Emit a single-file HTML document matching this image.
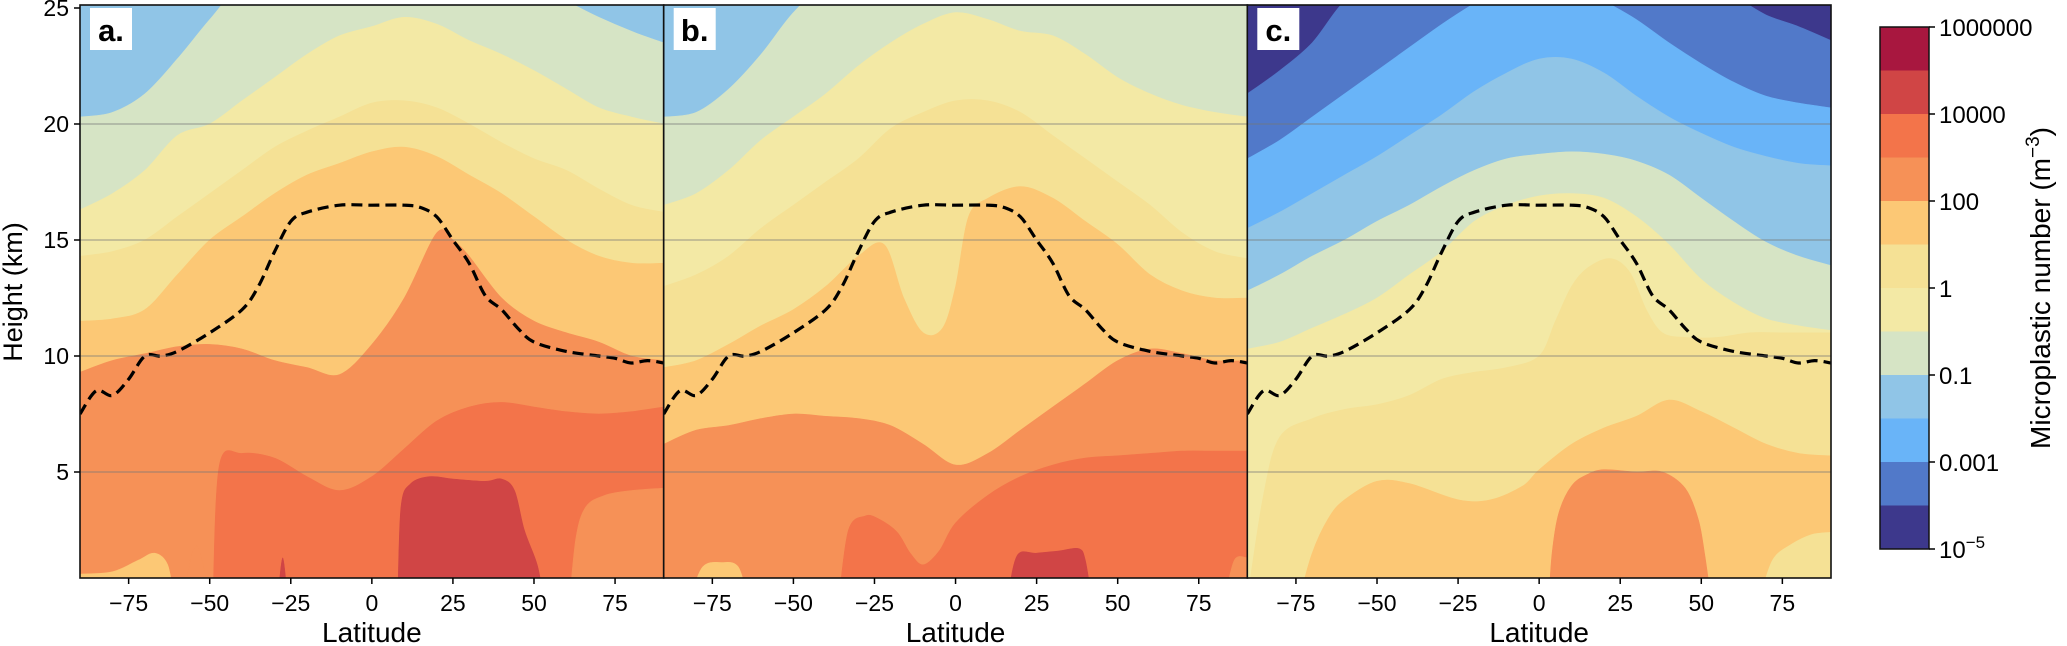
<!DOCTYPE html>
<html><head><meta charset="utf-8"><style>
body{margin:0;background:#fff;}
svg{display:block;font-family:"Liberation Sans","DejaVu Sans",sans-serif;}
</style></head><body>
<svg id="fig" width="2067" height="646" viewBox="0 0 2067 646" xmlns="http://www.w3.org/2000/svg"></svg>
<script>
const colors=["#3d388c","#5179c9","#69b4f8","#90c5e7","#d6e4c5","#f3e9a5","#f5e195","#fcc875","#f69157","#f3744a","#d04545","#a8173f"];
const cbLabels=["1000000","10000","100","1","0.1","0.001","10^-5"];
const latTicks=[-75,-50,-25,0,25,50,75];
const hTicks=[5,10,15,20,25];
const L=[-90,-80,-70,-60,-50,-40,-30,-20,-10,0,10,20,30,40,50,60,70,80,90];
const tropLat=[-90,-85,-80,-75,-70,-65,-60,-50,-40,-35,-30,-25,-20,-10,0,10,15,20,25,30,35,40,45,50,60,70,75,80,85,90];
const tropH=[7.5,8.5,8.3,9.0,10.0,10.0,10.2,11.0,12.0,13.0,14.5,15.8,16.2,16.5,16.5,16.5,16.4,16.0,15.0,14.0,12.6,12.0,11.2,10.6,10.2,10.0,9.9,9.7,9.8,9.7];
const panelA=[
 {lvl:3,lats:L,hs:[30,30,30,30,30,30,30,30,30,30,30,30,30,30,30,30,30,30,30]},
 {lvl:4,lats:L,hs:[20.3,20.5,21.3,22.8,24.5,26,26,26,26,26,26,26,26,26,26,25.3,24.6,24.0,23.5]},
 {lvl:5,lats:L,hs:[16.3,17,18,19.5,20,21,22,23,23.8,24.2,24.6,24.3,23.6,23,22.3,21.5,20.7,20.3,20.0]},
 {lvl:6,lats:L,hs:[14.3,14.5,15,16,17,18,19,19.7,20.3,20.9,21,20.7,20,19.2,18.5,18,17.2,16.5,16.2]},
 {lvl:7,lats:L,hs:[11.5,11.6,12,13.5,15,16,17,17.8,18.3,18.8,19,18.6,17.8,17,16,15,14.3,14,14]},
 {lvl:8,lats:[-90,-80,-70,-60,-50,-40,-30,-20,-10,0,10,20,25,30,40,50,60,70,80,90],hs:[9.3,9.8,10.1,10.4,10.5,10.3,9.8,9.5,9.2,10.5,12.5,15.3,15.0,14.3,12.5,11.5,11,10.6,10,9.8]},
 {lvl:9,lats:[-49,-47,-40,-30,-20,-10,0,10,20,30,40,50,60,70,80,90],hs:[0,5.3,5.8,5.6,4.8,4.2,4.8,6.0,7.2,7.8,8.0,7.8,7.6,7.5,7.6,7.8]},
 {lvl:8,lats:[-90,-80,-72,-68,-65,-62,-60],hs:[0.6,0.6,0.8,0.9,0.9,0.6,0]},
 {lvl:7,lats:[-90,-80,-72,-67,-63,-61],hs:[0.6,0.7,1.2,1.5,1.0,0]},
 {lvl:8,lats:[-58,-56,-54,-52,-50],hs:[0,1.2,1.8,1.0,0]},
 {lvl:10,lats:[-29,-27.5,-26],hs:[0,1.3,0]},
 {lvl:8,lats:[61,63,66,72,80,90],hs:[0,2.2,3.5,4.0,4.2,4.3]},
 {lvl:10,lats:[8,9,12,18,25,35,40,44,47,51,53],hs:[0,3.5,4.5,4.8,4.7,4.6,4.7,4.2,2.5,1.0,0]}
];
const panelB=[
 {lvl:3,lats:L,hs:[30,30,30,30,30,30,30,30,30,30,30,30,30,30,30,30,30,30,30]},
 {lvl:4,lats:L,hs:[20.3,20.5,21.5,23,24.8,26,26,26,26,26,26,26,26,26,26,26,26,26,26]},
 {lvl:5,lats:L,hs:[16.5,17,18,19.3,20.3,21.3,22.5,23.5,24.3,24.8,24.5,24,23.8,23,22,21.3,20.8,20.5,20.3]},
 {lvl:6,lats:L,hs:[13,13.5,14.3,15.5,16.5,17.5,18.5,19.8,20.5,21,21,20.5,19.5,18.5,17.5,16.5,15.3,14.5,14.2]},
 {lvl:7,lats:[-90,-80,-70,-60,-50,-40,-30,-22,-16,-10,-4,0,4,10,20,30,40,50,60,70,80,90],hs:[9.5,9.8,10.5,11.3,12,13,14.3,14.8,12.5,11,11.2,13,16,16.8,17.3,16.8,15.8,14.8,13.5,12.8,12.5,12.5]},
 {lvl:8,lats:L,hs:[6.2,6.8,7.0,7.3,7.5,7.4,7.3,7.0,6.2,5.3,5.8,6.8,7.8,8.8,9.8,10.3,10.1,9.8,9.8]},
 {lvl:9,lats:[-36,-33,-28,-24,-18,-14,-10,-5,0,10,20,30,40,50,60,70,80,90],hs:[0,2.5,3.1,3.0,2.4,1.5,1.0,1.6,2.8,4.0,4.8,5.3,5.6,5.7,5.8,5.9,5.9,5.9]},
 {lvl:7,lats:[-82,-78,-72,-67,-64],hs:[0,0.9,1.1,0.9,0]},
 {lvl:10,lats:[16,19,25,32,38,40,42],hs:[0,1.4,1.5,1.6,1.7,1.2,0]},
 {lvl:8,lats:[83,86,90],hs:[0,1.2,1.3]}
];
const panelC=[
 {lvl:0,lats:L,hs:[30,30,30,30,30,30,30,30,30,30,30,30,30,30,30,30,30,30,30]},
 {lvl:1,lats:L,hs:[21.3,22.3,23.5,25.3,26,26,26,26,26,26,26,26,26,26,26,25.5,24.7,24.2,23.6]},
 {lvl:2,lats:L,hs:[18.5,19.3,20.3,21.3,22.3,23.3,24.3,25.2,26,26,26,25.3,24.5,23.5,22.6,21.8,21.2,20.9,20.7]},
 {lvl:3,lats:L,hs:[15.5,16.2,17,17.8,18.6,19.5,20.4,21.4,22.2,22.8,22.8,22.2,21.2,20.3,19.6,19.0,18.6,18.3,18.2]},
 {lvl:4,lats:L,hs:[12.8,13.5,14.3,15.0,15.8,16.5,17.3,18.0,18.5,18.7,18.8,18.7,18.4,17.8,16.8,15.8,14.9,14.3,13.9]},
 {lvl:5,lats:L,hs:[10.3,10.6,11.2,11.8,12.5,13.5,14.5,15.8,16.5,16.9,17.0,16.8,16.0,14.8,13.3,12.3,11.6,11.3,11.1]},
 {lvl:6,lats:[-90,-85,-80,-70,-60,-50,-40,-30,-20,-10,0,5,10,15,22,28,33,38,45,55,65,75,90],hs:[0,4,6.5,7.3,7.7,7.9,8.3,9.0,9.3,9.5,10,11.5,13,13.8,14.2,13.6,12,11,10.8,10.8,11,11,11]},
 {lvl:7,lats:[-74,-70,-65,-60,-50,-40,-25,-15,-5,0,10,20,30,40,50,60,70,80,90],hs:[0,1.5,3.0,3.8,4.6,4.5,3.8,3.8,4.4,5.1,6.2,6.9,7.4,8.1,7.6,6.9,6.2,5.8,5.7]},
 {lvl:6,lats:[68,72,78,84,90],hs:[0,1.2,1.9,2.3,2.4]},
 {lvl:8,lats:[3,4,6,10,15,20,30,38,45,49,51,53],hs:[0,1.5,3.2,4.4,4.9,5.1,5.0,5.0,4.3,3.0,1.5,0]}
];
const panels=[{name:"a",x0:80,data:panelA},{name:"b",x0:663.7,data:panelB},{name:"c",x0:1247.3,data:panelC}];
const PW=583.7, TOP=5, BOT=578;
const NS="http://www.w3.org/2000/svg";
const svg=document.getElementById("fig");
function yOf(h){return 8+(25-h)*23.2;}
function mk(tag,attrs,parent){const e=document.createElementNS(NS,tag);for(const k in attrs)e.setAttribute(k,attrs[k]);(parent||svg).appendChild(e);return e;}
function smoothPath(pts){
  let d="M"+pts[0][0].toFixed(1)+","+pts[0][1].toFixed(1);
  for(let i=0;i<pts.length-1;i++){
    const p0=pts[Math.max(0,i-1)],p1=pts[i],p2=pts[i+1],p3=pts[Math.min(pts.length-1,i+2)];
    const c1=[p1[0]+(p2[0]-p0[0])/6,p1[1]+(p2[1]-p0[1])/6];
    const c2=[p2[0]-(p3[0]-p1[0])/6,p2[1]-(p3[1]-p1[1])/6];
    d+=" C"+c1[0].toFixed(1)+","+c1[1].toFixed(1)+" "+c2[0].toFixed(1)+","+c2[1].toFixed(1)+" "+p2[0].toFixed(1)+","+p2[1].toFixed(1);
  }
  return d;
}
const defs=mk("defs",{});
panels.forEach((p,pi)=>{
  const xOf=lat=>p.x0+(lat+90)/180*PW;
  const cp=mk("clipPath",{id:"clip"+pi},defs);
  mk("rect",{x:p.x0,y:TOP,width:PW,height:BOT-TOP},cp);
  const g=mk("g",{"clip-path":"url(#clip"+pi+")"});
  
  
  p.data.forEach((ly,li)=>{
    const pts=ly.lats.map((la,i)=>[xOf(la),yOf(Math.max(-1,Math.min(30,ly.hs[i]<=0?-0.5:ly.hs[i])))]);
    let d=smoothPath(pts);
    const xa=xOf(ly.lats[0]),xb=xOf(ly.lats[ly.lats.length-1]);
    d+=" L"+xb.toFixed(1)+","+(BOT+10)+" L"+xa.toFixed(1)+","+(BOT+10)+" Z";
    const path=mk("path",{d:d,fill:colors[ly.lvl],stroke:colors[ly.lvl],"stroke-width":0.6},g);
    
    
  });
  // gridlines
  [5,10,15,20].forEach(h=>{
    const gl=mk("line",{x1:p.x0,x2:p.x0+PW,y1:yOf(h),y2:yOf(h),stroke:"#777","stroke-opacity":0.6,"stroke-width":1.3});
    
    
  });
  // tropopause
  const tp=tropLat.map((la,i)=>[xOf(la),yOf(tropH[i])]);
  const tl=mk("path",{d:smoothPath(tp),fill:"none",stroke:"#000","stroke-width":3.2,"stroke-dasharray":"11,6"},g);
  
  
  // frame
  const fr=mk("rect",{x:p.x0,y:TOP,width:PW,height:BOT-TOP,fill:"none",stroke:"#111","stroke-width":1.6});
  
  
  // label box
  const lb=mk("rect",{x:p.x0+10,y:8,width:42,height:42,fill:"#fff"});
  
  
  const lt=mk("text",{x:p.x0+31,y:41,"text-anchor":"middle","font-size":31,"font-weight":"bold",fill:"#000"});
  lt.textContent=p.name+".";
  
  
  // x ticks
  latTicks.forEach(t=>{
    const x=xOf(t);
    const tk=mk("line",{x1:x,x2:x,y1:BOT,y2:BOT+6,stroke:"#000","stroke-width":1.5});
    
    
    const tx=mk("text",{x:x,y:611,"text-anchor":"middle","font-size":23,fill:"#000"});
    tx.textContent=(t<0?"\u2212"+(-t):""+t);
    
    
  });
  const xl=mk("text",{x:p.x0+PW/2,y:642,"text-anchor":"middle","font-size":28,fill:"#000"});
  xl.textContent="Latitude";
  
  
  if(pi===0){
    hTicks.forEach(h=>{
      const y=yOf(h);
      const tk=mk("line",{x1:p.x0-6,x2:p.x0,y1:y,y2:y,stroke:"#000","stroke-width":1.5});
      
      
      const tx=mk("text",{x:p.x0-11,y:y+8,"text-anchor":"end","font-size":23,fill:"#000"});
      tx.textContent=""+h;
      
      
    });
    const yl=mk("text",{x:0,y:0,"text-anchor":"middle","font-size":27,fill:"#000",transform:"translate(22,292) rotate(-90)"});
    yl.textContent="Height (km)";
    
    
  }
});
// colorbar
const CBX=1880,CBW=49,CBT=27,CBB=549;
const seg=(CBB-CBT)/colors.length;
for(let i=0;i<colors.length;i++){
  const r=mk("rect",{x:CBX,y:CBT+i*seg,width:CBW,height:seg+0.5,fill:colors[colors.length-1-i]});
  
  
}
const cbf=mk("rect",{x:CBX,y:CBT,width:CBW,height:CBB-CBT,fill:"none",stroke:"#111","stroke-width":1.5});


cbLabels.forEach((lab,i)=>{
  const y=CBT+i*2*seg;
  const tk=mk("line",{x1:CBX+CBW,x2:CBX+CBW+6,y1:y,y2:y,stroke:"#000","stroke-width":1.5});
  
  
  const tx=mk("text",{x:CBX+CBW+10,y:y+9,"font-size":24,fill:"#000"});
  if(lab.indexOf("^")>=0){
    const parts=lab.split("^");
    const t1=mk("tspan",{},tx);t1.textContent=parts[0];
    const t2=mk("tspan",{dy:-10,"font-size":17},tx);t2.textContent=parts[1].replace("-","\u2212");
  } else tx.textContent=lab;
  
  
});
const cbt=mk("text",{x:0,y:0,"text-anchor":"middle","font-size":28,fill:"#000",transform:"translate(2050,288) rotate(-90)"});
const c1=mk("tspan",{},cbt);c1.textContent="Microplastic number (m";
const c2=mk("tspan",{dy:-11,"font-size":19},cbt);c2.textContent="\u22123";
const c3=mk("tspan",{dy:11},cbt);c3.textContent=")";


</script>
</body></html>
